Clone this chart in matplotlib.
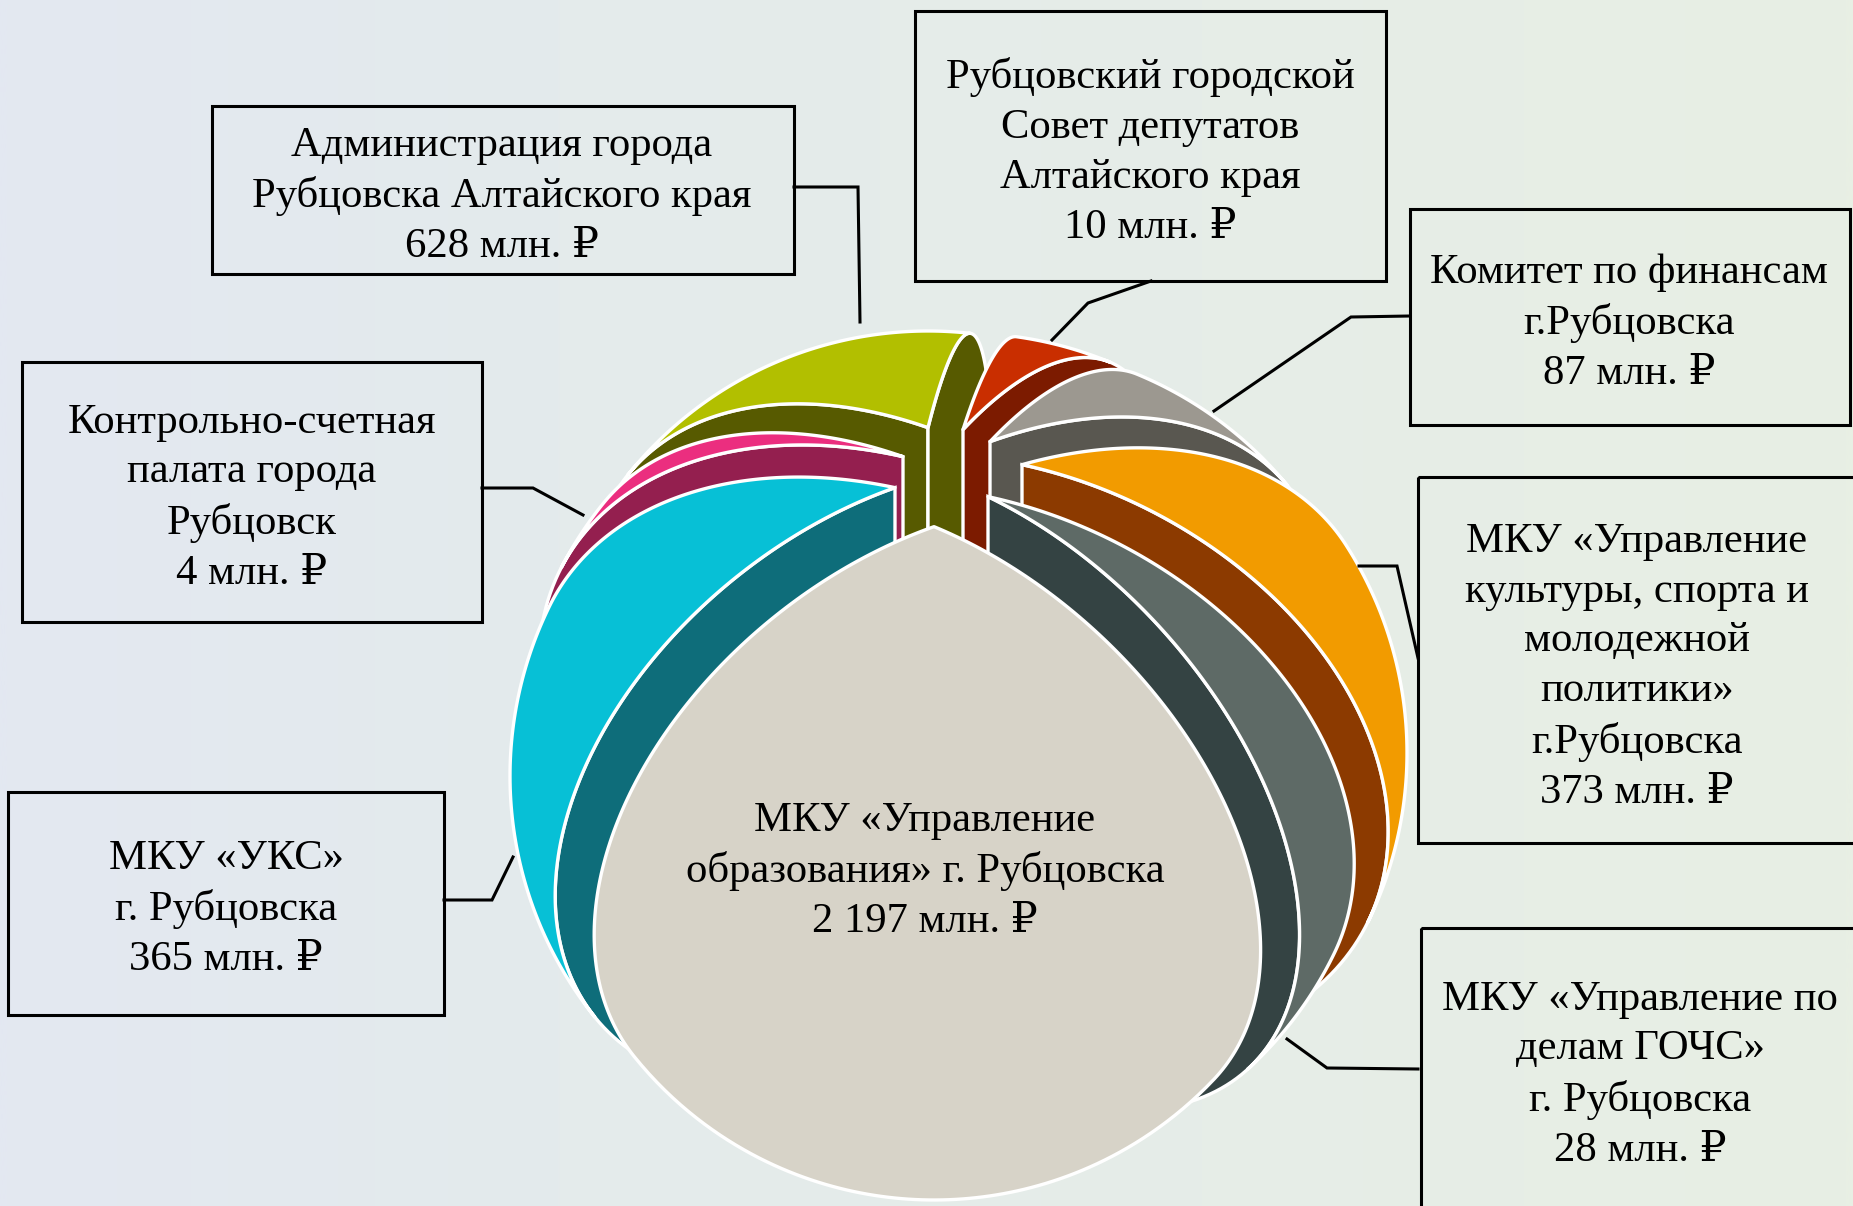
import matplotlib
matplotlib.use("Agg")
import matplotlib.pyplot as plt
from matplotlib.patches import Polygon, Rectangle
import numpy as np

# millions of roubles, clockwise from the top of the pie
names = ["Администрация города\nРубцовска Алтайского края\n628 млн. ₽",
         "Рубцовский городской\nСовет депутатов\nАлтайского края\n10 млн. ₽",
         "Комитет по финансам\nг.Рубцовска\n87 млн. ₽",
         "МКУ «Управление\nкультуры, спорта и\nмолодежной\nполитики»\nг.Рубцовска\n373 млн. ₽",
         "МКУ «Управление по\nделам ГОЧС»\nг. Рубцовска\n28 млн. ₽",
         "МКУ «Управление\nобразования» г. Рубцовска\n2 197 млн. ₽",
         "МКУ «УКС»\nг. Рубцовска\n365 млн. ₽",
         "Контрольно-счетная\nпалата города\nРубцовск\n4 млн. ₽"]
values = [628, 10, 87, 373, 28, 2197, 365, 4]

face_colors = ["#B2BF00", "#C92E00", "#9C9890", "#F29B00", "#5E6A66", "#D7D3C8", "#07C0D6", "#EB2E7F"]
wall_colors = ["#575A00", "#7C1B00", "#595750", "#8C3A00", "#344343", "#D7D3C8", "#0E6D7A", "#941F4F"]
# how far each slice is pulled out of the pie, x and y
explode_x = [-19, 16, 43, 75, 41, -13, -52, -44]
explode_y = [-47, -45, -33, -10, 22, 52, 13, -18]
# the original squeezes big slices and widens thin ones
stretch = [1.124, 1.592, 1.172, 0.768, 0.738, 1.105, 0.888, 1.034]
# small nudge of each slice's trailing edge, degrees
lo_trim = [2.5, 0, 5.5, 0, -4, 0, 1, 0]

# label boxes: left, top, right, bottom
boxes = [(212, 106, 794, 274), (915, 11, 1386, 281), (1410, 209, 1850, 425), (1418, 477, 1860, 843),
         (1421, 928, 1860, 1215), None, (8, 792, 444, 1015), (22, 362, 482, 622)]
text_xy = [(502, 196), (1150, 152), (1629, 323), (1637, 667), (1640, 1075), (925, 871), (226, 909), (252, 498)]
leaders = [[(794, 187), (858, 187), (860, 322)],
           [(1151, 281), (1088, 303), (1052, 340)],
           [(1410, 316), (1351, 317), (1214, 411)],
           [(1359, 566), (1397, 566), (1418, 658)],
           [(1287, 1039), (1327, 1068), (1418, 1069)],
           None,
           [(444, 900), (492, 900), (513, 857)],
           [(482, 488), (533, 488), (583, 515)]]

R = 385
tilt = np.radians(41.5)
cx0, cy0 = 947, 763
start = 242

fig = plt.figure(figsize=(18.53, 12.06), dpi=100)
ax = fig.add_axes([0, 0, 1, 1])
ax.set_xlim(0, 1853)
ax.set_ylim(1206, 0)
ax.axis("off")

# background gradient, left to right
stops = np.array([[227, 232, 241], [228, 235, 236], [232, 239, 228]]) / 255
t = np.linspace(0, 1, 128)
bg = np.column_stack([np.interp(t, [0, 0.3, 1], stops[:, c]) for c in range(3)])[None, :, :]
ax.imshow(bg, extent=(0, 1853, 1206, 0), interpolation="bilinear", aspect="auto", zorder=0)


def project(lon, lat, ox, oy):
    # orthographic view of a sphere, pole tipped towards the viewer
    x = np.cos(lat) * np.sin(lon)
    y = np.cos(lat) * np.cos(lon)
    z = np.sin(lat)
    return ox + R * x, oy - R * (z * np.cos(tilt) - y * np.sin(tilt))


def limb_lat(lon):
    return np.arctan(-np.cos(lon) * np.cos(tilt) / np.sin(tilt))


def meridian(lon, lat_end, ox, oy):
    lat = np.linspace(np.pi / 2, lat_end, 120)
    return np.column_stack(project(lon, lat, ox, oy))


shares = np.array(values, dtype=float) ** 0.4 * np.array(stretch)
spans = shares / shares.sum() * 360
edges = start - np.concatenate([[0], np.cumsum(spans)])

parts = []
for i in range(len(values)):
    hi, lo = np.radians(edges[i]), np.radians(edges[i + 1] + lo_trim[i])
    parts.append((cy0 + explode_y[i], i, hi, lo, cx0 + explode_x[i]))

# back slices first
for oy, i, hi, lo, ox in sorted(parts):
    for lon, show in ((hi, np.sin(hi) < 0), (lo, np.sin(lo) > 0)):
        if show:
            wall = meridian(lon, -np.pi / 2, ox, oy)
            ax.add_patch(Polygon(wall, closed=True, fc=wall_colors[i], ec="white", lw=2.4, zorder=2 + oy / 1000))
    lons = np.linspace(hi, lo, 80)
    rim = np.column_stack(project(lons, limb_lat(lons), ox, oy))
    side_a = meridian(hi, limb_lat(hi), ox, oy)
    side_b = meridian(lo, limb_lat(lo), ox, oy)[::-1]
    ax.add_patch(Polygon(np.vstack([side_a, rim, side_b]), closed=True, fc=face_colors[i], ec="white",
                         lw=2.4, joinstyle="round", zorder=2 + oy / 1000))

serif = ["Liberation Serif", "DejaVu Serif"]
for i in range(len(names)):
    if boxes[i] is not None:
        l, t, r, b = boxes[i]
        ax.add_patch(Rectangle((l, t), r - l, b - t, fc="none", ec="black", lw=2.2, zorder=6))
    if leaders[i] is not None:
        ax.plot(*zip(*leaders[i]), color="black", lw=2.2, solid_joinstyle="miter", zorder=6)
    ax.text(text_xy[i][0], text_xy[i][1], names[i], ha="center", va="center", ma="center",
            family=serif, fontsize=30.7, linespacing=1.38, color="black", zorder=7)

fig.savefig("out.png", dpi=100)
